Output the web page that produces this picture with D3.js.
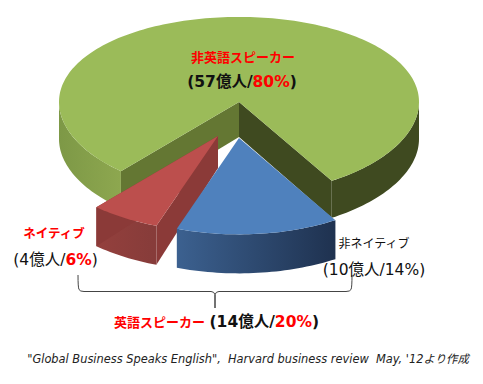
<!DOCTYPE html>
<html>
<head>
<meta charset="utf-8">
<script src="https://cdn.jsdelivr.net/npm/d3@7"></script>
<style>
  html, body { margin: 0; padding: 0; background: #fff; }
  text { font-family: "DejaVu Sans", "Noto Sans CJK JP", sans-serif; white-space: pre; }
</style>
</head>
<body>
<div id="chart"></div>
<script>
// Pie order is clockwise from the left edge of the big slice
const categories = ['非英語スピーカー', '非ネイティブ', 'ネイティブ'];
const shares = [80, 14, 6];
const people = [57, 10, 4];
const groupName = '英語スピーカー';
const groupPeople = 14;
const groupShare = 20;
const sourceNote = '"Global Business Speaks English",  Harvard business review  May, \'12より作成';

const width = 483, height = 384;
const cx = 239, cy = 102, rx = 180, ry = 88.8, persp = 0.042;

const svg = d3.select('#chart').append('svg').attr('width', width).attr('height', height)
  .style('display', 'block');
const defs = svg.append('defs');

const pie = d3.pie().value(d => d).sort(null)
  .startAngle(-139 * Math.PI / 180).endAngle(221 * Math.PI / 180);
const slices = pie(shares);

// each slice gets its own placement, exploded ones sit closer to the viewer
const bigPos = { dx: 0, dy: 0, scale: 1, rimDepth: 37, apexDepth: 35 };
const redPos = { dx: -21, dy: 34, scale: 1.03, rimDepth: 39, apexDepth: 32 };
const bluePos = { dx: 0, dy: 36, scale: 1.04, rimDepth: 39, apexDepth: 32 };

// flat disc -> screen, slight perspective so the front edge reads bigger
function project(a, r, pos) {
  const v = -Math.cos(a) * r * pos.scale;
  return [cx + pos.dx + rx * Math.sin(a) * r * pos.scale, cy + pos.dy + ry * v * (1 + persp * v)];
}
function arcPts(a0, a1, pos) {
  const n = Math.max(2, Math.ceil(Math.abs(a1 - a0) * 40));
  return d3.range(n + 1).map(i => project(a0 + (a1 - a0) * i / n, 1, pos));
}
const line = d3.line();

function gradient(id, x0, x1, c0, c1) {
  const g = defs.append('linearGradient').attr('id', id)
    .attr('gradientUnits', 'userSpaceOnUse')
    .attr('x1', x0).attr('x2', x1).attr('y1', 0).attr('y2', 0);
  g.append('stop').attr('offset', 0).attr('stop-color', c0);
  g.append('stop').attr('offset', 1).attr('stop-color', c1);
  return `url(#${id})`;
}

function wall(a0, a1, pos, fill) {
  const top = arcPts(a0, a1, pos);
  const bottom = top.map(p => [p[0], p[1] + pos.rimDepth]);
  svg.append('path').attr('d', line(top.concat(bottom.reverse())) + 'Z').attr('fill', fill);
}
function sideWall(a, pos, fill) {
  const apex = project(a, 0, pos), rim = project(a, 1, pos);
  svg.append('path')
    .attr('d', line([apex, rim, [rim[0], rim[1] + pos.rimDepth], [apex[0], apex[1] + pos.apexDepth]]) + 'Z')
    .attr('fill', fill);
}
function topFace(s, pos, fill) {
  const pts = [project(s.startAngle, 0, pos)].concat(arcPts(s.startAngle, s.endAngle, pos));
  svg.append('path').attr('d', line(pts) + 'Z').attr('fill', fill);
}

// big slice
const green = slices[0];
wall(-Math.PI / 2, green.startAngle, bigPos, gradient('gl', 58, 120, '#7d9846', '#8da74f'));
wall(Math.PI / 2, green.endAngle, bigPos, '#3f4a20');
sideWall(green.startAngle, bigPos, '#647733');
sideWall(green.endAngle, bigPos, '#3f4a20');
topFace(green, bigPos, '#9bbb59');

// exploded native slice
const red = slices[2];
wall(red.startAngle, red.endAngle, redPos, gradient('gr', 96, 153, '#94403d', '#873c3a'));
sideWall(red.endAngle, redPos, '#8b3a38');
sideWall(red.startAngle, redPos, '#8b3a38');
topFace(red, redPos, '#bc4f4d');

// exploded non-native slice
const blue = slices[1];
wall(blue.startAngle, blue.endAngle, bluePos, gradient('gb', 176, 334, '#3c6190', '#1f3250'));
topFace(blue, bluePos, '#4f81bd');

// bracket under the two english slices
const bx0 = 78, bx1 = 352, bMid = 215, bTop = 275, bY = 291.5, bTip = 308;
svg.append('path')
  .attr('d', `M${bx0},${bTop} Q${bx0},${bY - 4} ${bx0 + 1},${bY - 2} Q${bx0 + 2},${bY} ${bx0 + 6},${bY}
    L${bMid - 4},${bY} Q${bMid - 1},${bY} ${bMid},${bY + 3} L${bMid},${bTip} L${bMid},${bY + 3}
    Q${bMid + 1},${bY} ${bMid + 4},${bY} L${bx1 - 6},${bY} Q${bx1 - 2},${bY} ${bx1 - 1},${bY - 2}
    Q${bx1},${bY - 4} ${bx1},${bTop}`)
  .attr('fill', 'none').attr('stroke', '#444').attr('stroke-width', 1);

// labels: [text, colour, bold, size] runs
function label(x, y, size, runs, anchor) {
  const t = svg.append('text').attr('x', x).attr('y', y)
    .attr('text-anchor', anchor || 'start').style('font-size', size + 'px');
  runs.forEach(r => {
    const s = t.append('tspan').text(r[0]).attr('fill', r[1])
      .style('font-weight', r[2] ? 'bold' : 'normal');
    if (r[3]) s.style('font-size', r[3] + 'px');
  });
  return t;
}
const RED = '#ff0000', INK = '#111';

label(243, 62, 13, [[categories[0], RED, true]], 'middle');
label(242, 87, 15.5, [[`(${people[0]}億人/`, INK, true], [`${shares[0]}%`, RED, true], [')', INK, true]], 'middle');

label(54, 238, 12.5, [[categories[2], RED, true]], 'middle');
label(55.5, 265, 15.5, [[`(${people[2]}億人/`, INK, false], [`${shares[2]}%`, RED, true], [')', INK, false]], 'middle');

label(374, 248, 12, [[categories[1], INK, false]], 'middle');
label(374, 275, 15.5, [[`(${people[1]}億人/${shares[1]}%)`, INK, false]], 'middle');

label(114, 327, 13, [[groupName + ' ', RED, true, 13], [`(${groupPeople}億人/`, INK, true, 15.5], [`${groupShare}%`, RED, true, 15.5], [')', INK, true, 15.5]]);

label(248, 363, 11.4, [[sourceNote, '#222', false]], 'middle').style('font-style', 'italic');
</script>
</body>
</html>
